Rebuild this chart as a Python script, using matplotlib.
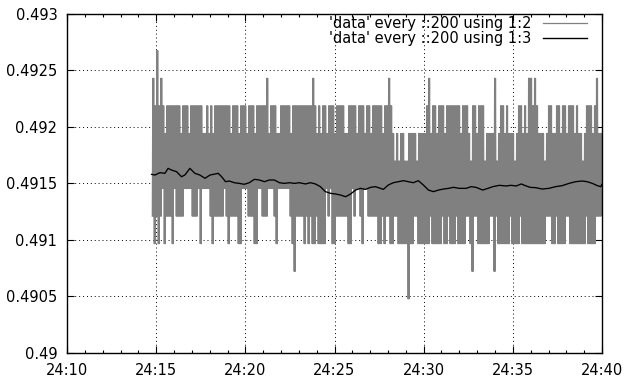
import numpy as np
import matplotlib
matplotlib.use('Agg')
import matplotlib.pyplot as plt
from matplotlib.ticker import MultipleLocator
from matplotlib.lines import Line2D

# ---------------- data ----------------
# raw signal: integer ADC codes (value = code / 4096), given per short time slot
# as the lowest and highest code reached in that slot (digit = code - 2009)
base_code = 2009
code_scale = 4096
raw_start = 14.78   # minutes after 24:00
raw_end = 40.0
raw_hi = ("8797876777" "7777677767" "7777766767" "6777777"
          "7767776777" "6777677777" "8677766777" "77677777"
          "7777787676" "7767776777" "7667777677" "76776777"
          "7767787656" "5665566665" "6666786776" "77767777"
          "7776777657" "7677756666" "8567767666" "56776768"
          "8787666567" "7667767767" "7767665677" "767866")
raw_lo = ("3232342333" "2433334444" "3334244443" "2333334"
          "3233332244" "4333224433" "3444324444" "44321333"
          "3232322322" "2243422333" "3332243443" "24433333"
          "2232332233" "2222202233" "2222223222" "22322322"
          "2322223321" "3322222233" "1322222232" "22232222"
          "2222222233" "3223222233" "2222222232" "222333")

# running average (column 3)
avg_t = [14.74, 14.93, 15.21, 15.49, 15.67, 15.86, 16.14, 16.42, 16.61, 16.89,
         17.17, 17.45, 17.74, 18.02, 18.30, 18.48, 18.67, 18.89,
         19.10, 19.38, 19.66, 19.94, 20.22, 20.51, 20.79, 21.07, 21.35, 21.63,
         21.91, 22.19, 22.47, 22.75, 23.03,
         23.37, 23.65, 23.93, 24.21, 24.49, 24.78, 25.06, 25.34, 25.62, 25.90,
         26.18, 26.46, 26.74, 27.02, 27.30,
         27.74, 28.02, 28.30, 28.58, 28.86, 29.14, 29.42, 29.70, 29.98, 30.27,
         30.55, 30.83, 31.11, 31.39, 31.67,
         32.00, 32.38, 32.66, 32.94, 33.31, 33.60, 33.88, 34.25, 34.62, 34.90,
         35.19, 35.47, 35.75, 35.97,
         36.28, 36.65, 37.02, 37.40, 37.77, 38.15, 38.52, 38.89, 39.17, 39.46,
         39.74, 39.93, 40.0]
avg_v = [0.491581, 0.491575, 0.491596, 0.491590, 0.491634, 0.491619, 0.491605,
         0.491560, 0.491575, 0.491634, 0.491590, 0.491575, 0.491546, 0.491575,
         0.491584, 0.491590, 0.491560, 0.491516,
         0.491522, 0.491507, 0.491501, 0.491493, 0.491507, 0.491537, 0.491531,
         0.491516, 0.491531, 0.491531, 0.491507, 0.491501, 0.491507, 0.491501,
         0.491507,
         0.491496, 0.491507, 0.491496, 0.491472, 0.491428, 0.491413, 0.491407,
         0.491398, 0.491383, 0.491407, 0.491442, 0.491457, 0.491448, 0.491466,
         0.491472,
         0.491448, 0.491487, 0.491507, 0.491516, 0.491525, 0.491516, 0.491507,
         0.491525, 0.491487, 0.491442, 0.491428, 0.491442, 0.491451, 0.491457,
         0.491466,
         0.491457, 0.491457, 0.491472, 0.491466, 0.491442, 0.491457, 0.491472,
         0.491484, 0.491478, 0.491484, 0.491478, 0.491496, 0.491478, 0.491466,
         0.491463, 0.491451, 0.491457, 0.491472, 0.491481, 0.491501, 0.491516,
         0.491522, 0.491516, 0.491501, 0.491481, 0.491472, 0.491493]

x_ticks = [10, 15, 20, 25, 30, 35, 40]
x_labels = ['24:10', '24:15', '24:20', '24:25', '24:30', '24:35', '24:40']
y_ticks = [0.49, 0.4905, 0.491, 0.4915, 0.492, 0.4925, 0.493]
y_labels = ['0.49', '0.4905', '0.491', '0.4915', '0.492', '0.4925', '0.493']
legend_labels = ["'data' every ::200 using 1:2", "'data' every ::200 using 1:3"]

# ---------------- build raw series ----------------
hi = (base_code + np.array([int(c) for c in raw_hi])) / code_scale
lo = (base_code + np.array([int(c) for c in raw_lo])) / code_scale
n = len(hi)
tc = np.linspace(raw_start, raw_end, n + 1)[:-1]
dt = (raw_end - raw_start) / n
# within each slot the signal toggles rapidly between its extremes
t_raw = np.column_stack([tc, tc + dt / 4, tc + dt / 2, tc + 3 * dt / 4]).ravel()
v_raw = np.column_stack([lo, hi, lo, hi]).ravel()

# ---------------- plot ----------------
FS = 10.5
fig = plt.figure(figsize=(6.26, 3.83), dpi=100)
ax = fig.add_axes([67 / 626, 1 - 353 / 383, (602 - 67) / 626, (353 - 14) / 383])

gray = '#808080'
ax.plot(t_raw, v_raw, color=gray, lw=0.8, zorder=3)
ax.plot(avg_t, avg_v, color='black', lw=0.95, zorder=4)

ax.set_xlim(10, 40)
ax.set_ylim(0.49, 0.493)
ax.set_xticks(x_ticks)
ax.set_xticklabels(x_labels, fontsize=FS)
ax.set_yticks(y_ticks)
ax.set_yticklabels(y_labels, fontsize=FS)
ax.xaxis.set_minor_locator(MultipleLocator(1))

ax.tick_params(which='both', direction='in', top=True, right=True,
               width=0.8, color='black')
ax.tick_params(which='major', length=5)
ax.tick_params(which='minor', length=2.5)
ax.tick_params(axis='x', which='major', pad=7)
ax.tick_params(axis='y', which='major', pad=7)

ax.grid(True, which='major', color='black', linestyle=(0, (1, 3)),
        linewidth=0.7, zorder=1)
for s in ax.spines.values():
    s.set_linewidth(1.0)
    s.set_zorder(5)

handles = [Line2D([], [], color=gray, lw=0.9),
           Line2D([], [], color='black', lw=1.0)]
ax.legend(handles, legend_labels, loc='upper right', frameon=False,
          markerfirst=False, fontsize=FS, handlelength=3.0,
          handletextpad=0.8, labelspacing=0.0,
          bbox_to_anchor=(0.982, 1.012), borderaxespad=0.0)

fig.savefig('out.png', dpi=100)
